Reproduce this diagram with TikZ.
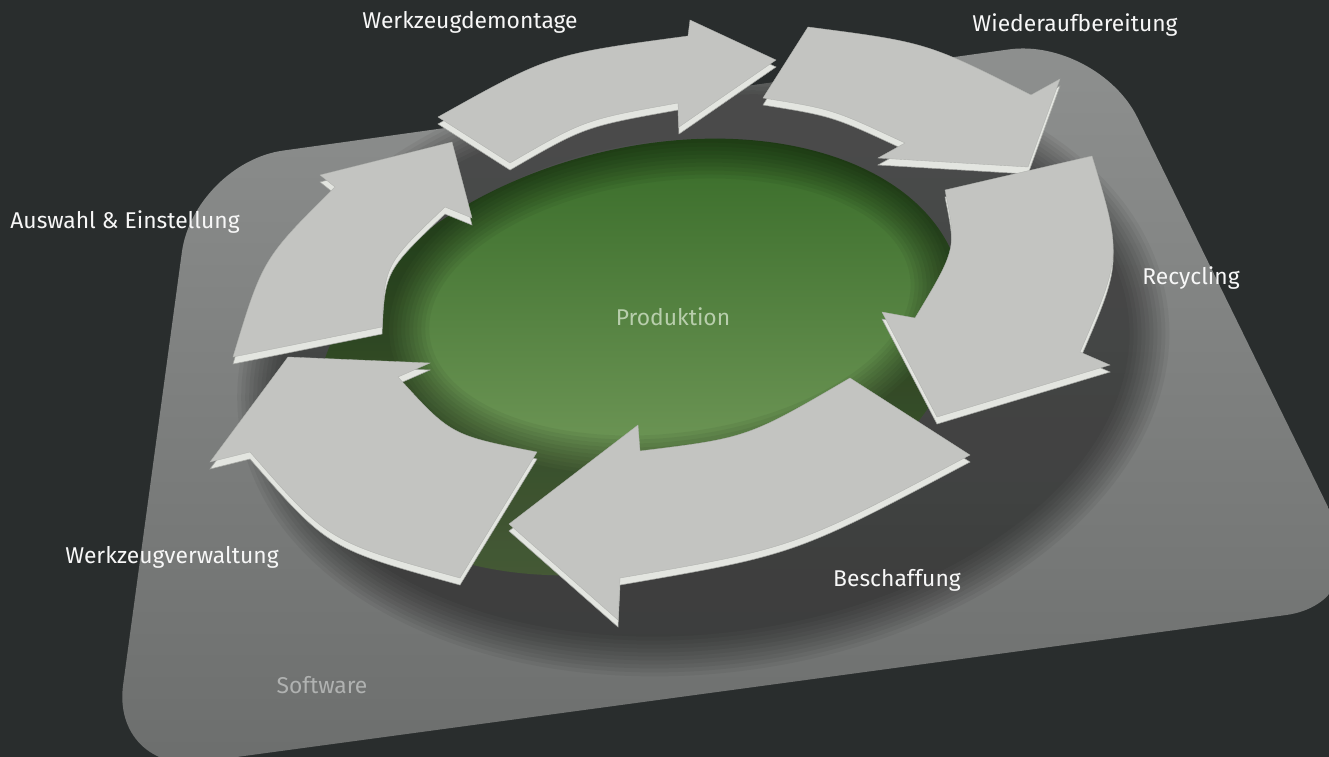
\documentclass[tikz,border=0pt]{standalone}
\usepackage{fontspec}
\newfontfamily\labelfont{Fira Sans}
\definecolor{bgdark}{HTML}{292D2D}
\definecolor{platetop}{HTML}{8E908F}
\definecolor{platebottom}{HTML}{6C6E6D}
\definecolor{greentop}{HTML}{3B6E2B}
\definecolor{greenbottom}{HTML}{86A96B}
\definecolor{arrowgray}{HTML}{C3C4C1}
\definecolor{arrowedge}{HTML}{E3E5E0}
\definecolor{arrowline}{HTML}{A4A6A2}
\definecolor{prodtext}{HTML}{B8CEAC}
\definecolor{softtext}{HTML}{B0B2B1}
% one ring arrow: side first, shifted down, then the top face
\newcommand\ringarrow[1]{%
  \fill[arrowside,shift={(0,7)}] #1;
  \fill[arrowtop] #1;}
\begin{document}
\begin{tikzpicture}[x=0.02cm,y=-0.02cm,
    arrowtop/.style={fill=arrowgray,draw=arrowline!60!arrowgray,line width=0.2pt},
    arrowside/.style={fill=arrowedge,draw=arrowline,line width=0.3pt},
    steplabel/.style={font=\labelfont\fontsize{13}{15}\selectfont,text=white!94!gray},
    centerlabel/.style={font=\labelfont\fontsize{13}{15}\selectfont,text=prodtext},
    softlabel/.style={font=\labelfont\fontsize{13}{15}\selectfont,text=softtext}]
  \useasboundingbox (0,0) rectangle (1329,757);
  \clip (0,0) rectangle (1329,757);
  \fill[bgdark] (0,0) rectangle (1329,757);
  % platform
  \shade[top color=platetop,bottom color=platebottom,rounded corners=1.8cm]
    (194,163) -- (1098,37) -- (1375,603) -- (111,774) -- cycle;
  % production field
  \shade[top color=greentop,bottom color=greenbottom,rotate around={15:(640,357)}]
    (640,357) ellipse [x radius=330, y radius=208];
  % soft shadow of the ring, only on the platform
  \begin{scope}
    \clip[rounded corners=1.8cm] (194,163) -- (1098,37) -- (1375,603) -- (111,774) -- cycle;
    \foreach \g in {0,4,...,40}
      \fill[black,opacity=0.05,even odd rule,rotate around={7:(680,340)}]
        (700,368) ellipse [x radius=428+\g, y radius=268+\g]
        (674,306) ellipse [x radius=282-\g, y radius=166-\g];
  \end{scope}
  % arrows
  \ringarrow{(233,357) .. controls (262.7,258.7) .. (335,187) -- (320,175) -- (452,142)
    -- (472,218) -- (445,207) .. controls (384.8,264.3) .. (382,327) -- cycle}
  \ringarrow{(438,117) .. controls (549.7,54.5) .. (688,36) -- (690,20) -- (776,60)
    -- (679,127) -- (678,103) .. controls (584.7,119.7) .. (510,163) -- cycle}
  \ringarrow{(808,27) .. controls (926.8,42.4) .. (1031,95) -- (1060,79) -- (1028,167)
    -- (878,158) -- (905,143) .. controls (832.7,109.2) .. (763,98) -- cycle}
  \ringarrow{(1092,156) .. controls (1122,255.3) .. (1080,352) -- (1110,365) -- (937,417)
    -- (882,312) -- (915,318) .. controls (956.7,248.7) .. (945,190) -- cycle}
  \ringarrow{(460,578) .. controls (328.3,541.7) .. (250,452) -- (210,462) -- (288,357)
    -- (430,363) -- (398,377) .. controls (450.8,435.2) .. (537,452) -- cycle}
  \ringarrow{(970,455) .. controls (795,547.8) .. (620,578) -- (618,620) -- (509,524)
    -- (638,425) -- (640,451) .. controls (747.7,437.8) .. (850,378) -- cycle}
  % labels
  \node[steplabel] (demontage) at (470,22) {Werkzeugdemontage};
  \node[steplabel] (aufbereitung) at (1075,25) {Wiederaufbereitung};
  \node[steplabel] (auswahl) at (125,222) {Auswahl \& Einstellung};
  \node[steplabel] (recycling) at (1191,278) {Recycling};
  \node[steplabel] (verwaltung) at (172,557) {Werkzeugverwaltung};
  \node[steplabel] (beschaffung) at (897,580) {Beschaffung};
  \node[centerlabel] (produktion) at (673,317) {Produktion};
  \node[softlabel] (software) at (322,685) {Software};
\end{tikzpicture}
\end{document}
